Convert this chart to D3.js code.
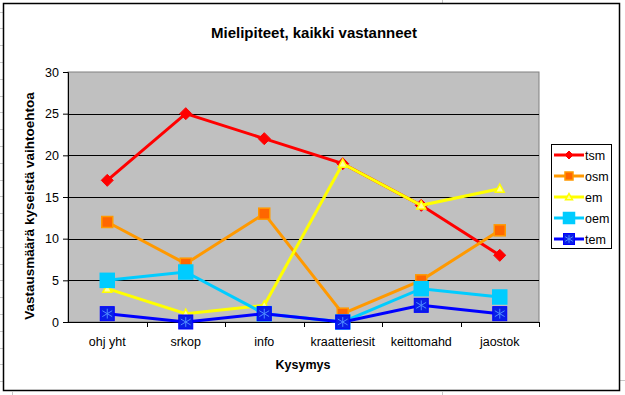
<!DOCTYPE html>
<html>
<head>
<meta charset="utf-8">
<script src="https://cdn.jsdelivr.net/npm/d3@7"></script>
<style>
  body { margin: 0; background: #fff; }
  svg { display: block; font-family: Arial, "Liberation Sans", sans-serif; }
</style>
</head>
<body>
<script>
// chart data
var categories = ['ohj yht', 'srkop', 'info', 'kraatteriesit', 'keittomahd', 'jaostok'];
var seriesNames = ['tsm', 'osm', 'em', 'oem', 'tem'];
var tsm = [17, 25, 22, 19, 14, 8];
var osm = [12, 7, 13, 1, 5, 11];
var em = [4, 1, 2, 19, 14, 16];
var oem = [5, 6, 1, 0, 4, 3];
var tem = [1, 0, 1, 0, 2, 1];
var yTicks = [0, 5, 10, 15, 20, 25, 30];

var seriesValues = [tsm, osm, em, oem, tem];

var chart = {
  width: 625,
  height: 395,
  left: 68,
  right: 539,
  top: 72,
  bottom: 322
}

var styles = {
  tsm: {line: '#ff0000', marker: 'diamond', fill: '#ff0000', stroke: '#ff0000', size: 6},
  osm: {line: '#ff9900', marker: 'square', fill: '#ff6600', stroke: '#ff9900', size: 5.5},
  em: {line: '#ffff00', marker: 'triangle', fill: '#ffff99', stroke: '#ffff00', size: 4.5},
  oem: {line: '#00ccff', marker: 'square', fill: '#00ccff', stroke: '#00ccff', size: 7},
  tem: {line: '#0000ff', marker: 'star', fill: '#0a1ee6', stroke: '#0000ff', size: 7}
}

var svg = d3.select('body').append('svg')
            .attr('width', chart.width)
            .attr('height', chart.height);

// spreadsheet cells behind the chart
var cellLines = svg.append('g').attr('stroke', '#c8c8c8').attr('stroke-width', 1);
for (var gy = 11.5; gy < chart.height; gy += 16.8) {
  cellLines.append('line').attr('x1', 0).attr('x2', 3).attr('y1', Math.round(gy) + 0.5).attr('y2', Math.round(gy) + 0.5);
}
cellLines.append('line').attr('x1', 442.5).attr('x2', 442.5).attr('y1', 0).attr('y2', 3);
cellLines.append('line').attr('x1', 442.5).attr('x2', 442.5).attr('y1', 392).attr('y2', 395);
cellLines.append('line').attr('x1', 12.5).attr('x2', 12.5).attr('y1', 392).attr('y2', 395);
cellLines.append('line').attr('x1', 620).attr('x2', 625).attr('y1', 380.5).attr('y2', 380.5);

// chart frame
svg.append('rect')
   .attr('x', 3.5).attr('y', 3.5)
   .attr('width', 616).attr('height', 387)
   .attr('fill', '#fff')
   .attr('stroke', '#000')
   .attr('stroke-width', 1.5);

var x = d3.scaleBand().domain(categories).range([chart.left, chart.right]);
var y = d3.scaleLinear().domain([0, 30]).range([chart.bottom, chart.top]);

// plot area
svg.append('rect')
   .attr('x', chart.left).attr('y', chart.top)
   .attr('width', chart.right - chart.left)
   .attr('height', chart.bottom - chart.top)
   .attr('fill', '#c0c0c0')
   .attr('stroke', '#808080')
   .attr('stroke-width', 1);

svg.append('g').selectAll('line').data(yTicks.slice(1, -1))
   .enter().append('line')
   .attr('x1', chart.left).attr('x2', chart.right)
   .attr('y1', function(d) {return Math.round(y(d)) + 0.5})
   .attr('y2', function(d) {return Math.round(y(d)) + 0.5})
   .attr('stroke', '#000');

// y axis
var yAxis = svg.append('g')
               .attr('transform', 'translate(' + chart.left + ',0)')
               .call(d3.axisLeft(y).tickValues(yTicks).tickSize(5).tickPadding(4));
yAxis.select('.domain').attr('stroke', '#000');
yAxis.selectAll('text').attr('font-size', 12.5).attr('fill', '#000').attr('font-family', 'Arial, "Liberation Sans", sans-serif');

// x axis, ticks sit between the categories
var xAxis = svg.append('g').attr('transform', 'translate(0,' + chart.bottom + ')');
xAxis.append('line')
     .attr('x1', chart.left).attr('x2', chart.right)
     .attr('y1', 0.5).attr('y2', 0.5)
     .attr('stroke', '#000');
xAxis.selectAll('.tk').data(categories)
     .enter().append('line')
     .attr('class', 'tk')
     .attr('x1', function(d) {return Math.round(x(d) + x.bandwidth()) + 0.5})
     .attr('x2', function(d) {return Math.round(x(d) + x.bandwidth()) + 0.5})
     .attr('y1', 0).attr('y2', 5)
     .attr('stroke', '#000');
xAxis.selectAll('text').data(categories)
     .enter().append('text')
     .attr('x', function(d) {return x(d) + x.bandwidth() / 2})
     .attr('y', 24)
     .attr('text-anchor', 'middle')
     .attr('font-size', 12.5)
     .text(function(d) {return d});

// titles
svg.append('text')
   .attr('x', 314).attr('y', 38)
   .attr('text-anchor', 'middle')
   .attr('font-size', 15).attr('font-weight', 'bold')
   .text('Mielipiteet, kaikki vastanneet');

svg.append('text')
   .attr('x', 303).attr('y', 369)
   .attr('text-anchor', 'middle')
   .attr('font-size', 12.5).attr('font-weight', 'bold')
   .text('Kysymys');

svg.append('text')
   .attr('transform', 'translate(34,206) rotate(-90)')
   .attr('text-anchor', 'middle')
   .attr('font-size', 13.5).attr('font-weight', 'bold')
   .text('Vastausmäärä kyseistä vaihtoehtoa');

// markers
var drawMarker = function(g, st, cx, cy, s) {
  if (st.marker == 'diamond') {
    g.append('path')
     .attr('d', 'M' + cx + ',' + (cy - s) + 'L' + (cx + s) + ',' + cy + 'L' + cx + ',' + (cy + s) + 'L' + (cx - s) + ',' + cy + 'Z')
     .attr('fill', st.fill).attr('stroke', st.stroke).attr('stroke-width', 1);
  } else if (st.marker == 'square') {
    g.append('rect')
     .attr('x', cx - s).attr('y', cy - s)
     .attr('width', 2 * s).attr('height', 2 * s)
     .attr('fill', st.fill).attr('stroke', st.stroke).attr('stroke-width', 1.5);
  } else if (st.marker == 'triangle') {
    g.append('path')
     .attr('d', 'M' + cx + ',' + (cy - s) + 'L' + (cx + s) + ',' + (cy + s * 0.8) + 'L' + (cx - s) + ',' + (cy + s * 0.8) + 'Z')
     .attr('fill', st.fill).attr('stroke', st.stroke).attr('stroke-width', 1.5);
  } else {
    g.append('rect')
     .attr('x', cx - s).attr('y', cy - s)
     .attr('width', 2 * s).attr('height', 2 * s)
     .attr('fill', st.fill).attr('stroke', st.stroke).attr('stroke-width', 1);
    var a = s * 0.7;
    g.append('path')
     .attr('d', 'M' + cx + ',' + (cy - a) + 'V' + (cy + a) +
                'M' + (cx - a) + ',' + (cy - a * 0.6) + 'L' + (cx + a) + ',' + (cy + a * 0.6) +
                'M' + (cx - a) + ',' + (cy + a * 0.6) + 'L' + (cx + a) + ',' + (cy - a * 0.6))
     .attr('stroke', '#4f8cff').attr('stroke-width', 1).attr('fill', 'none');
  }
}

var line = d3.line()
             .x(function(d, i) {return x(categories[i]) + x.bandwidth() / 2})
             .y(function(d) {return y(d)});

seriesNames.forEach(function(name, k) {
  var st = styles[name];
  var vals = seriesValues[k];
  var g = svg.append('g');
  g.append('path')
   .datum(vals)
   .attr('d', line)
   .attr('fill', 'none')
   .attr('stroke', st.line)
   .attr('stroke-width', 3);
  vals.forEach(function(v, i) {
    drawMarker(g, st, x(categories[i]) + x.bandwidth() / 2, y(v), st.size);
  });
});

// legend
var legend = svg.append('g');
legend.append('rect')
      .attr('x', 551.5).attr('y', 144.5)
      .attr('width', 60).attr('height', 104)
      .attr('fill', '#fff')
      .attr('stroke', '#000');
seriesNames.forEach(function(name, i) {
  var st = styles[name];
  var ly = 155 + i * 21;
  legend.append('line')
        .attr('x1', 554).attr('x2', 584)
        .attr('y1', ly).attr('y2', ly)
        .attr('stroke', st.line).attr('stroke-width', 3);
  drawMarker(legend, st, 569, ly, name == 'tsm' ? 4 : name == 'em' ? 3.5 : name == 'osm' ? 4 : 5.5);
  legend.append('text')
        .attr('x', 585).attr('y', ly + 4.5)
        .attr('font-size', 12.5)
        .text(name);
});
</script>
</body>
</html>
